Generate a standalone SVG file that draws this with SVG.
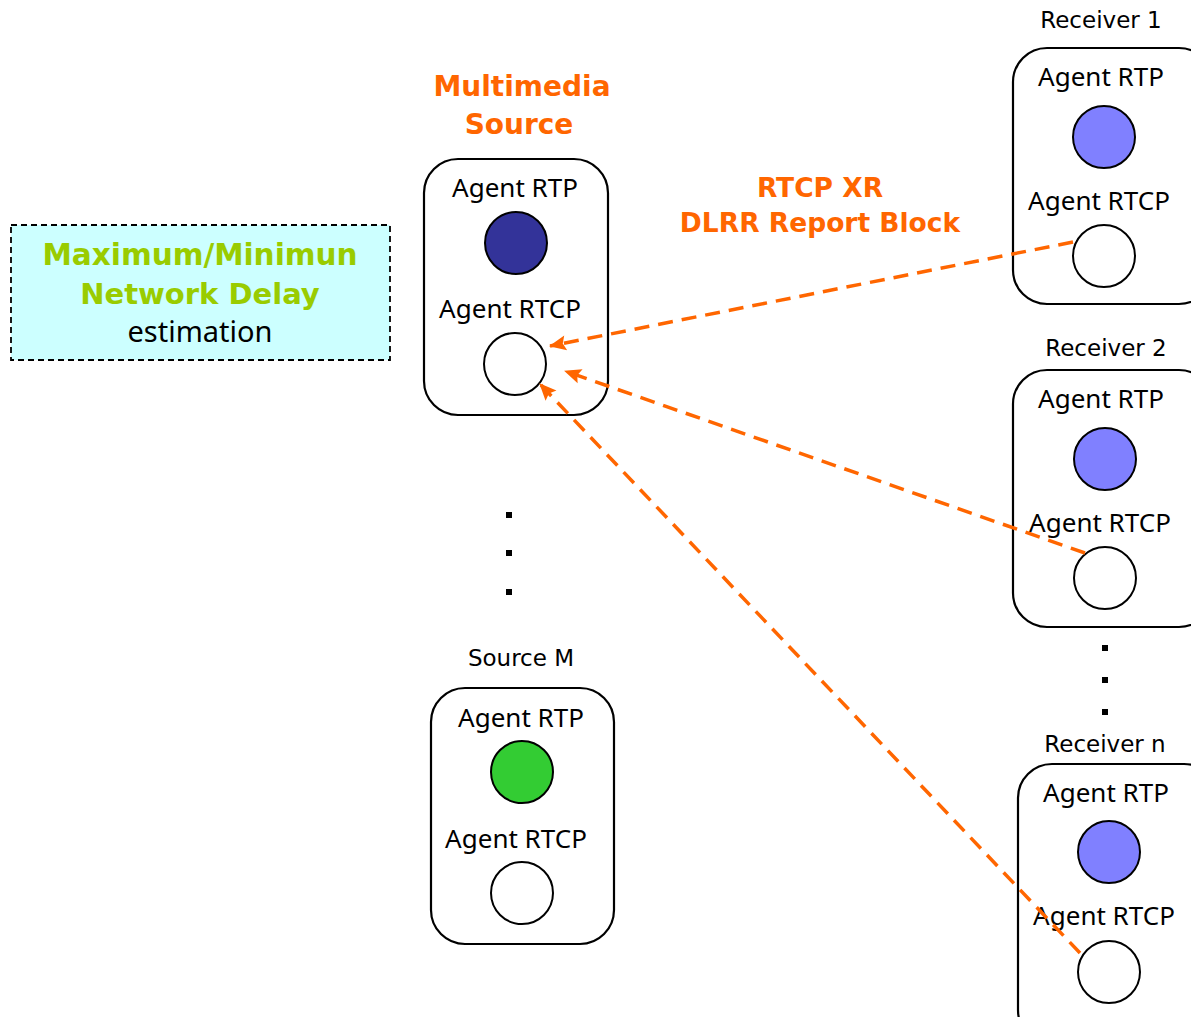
<svg xmlns="http://www.w3.org/2000/svg" width="1191" height="1017" viewBox="0 0 1191 1017">
<defs>
<style>
.box{fill:#fff;stroke:#000;stroke-width:2.2}
.t{font-family:"Noto Sans","DejaVu Sans",sans-serif;font-size:26px;fill:#000;text-anchor:middle}
.tt{font-family:"DejaVu Sans",Verdana,sans-serif;font-size:23px;fill:#000;text-anchor:middle}
.b{font-family:"DejaVu Sans",Verdana,sans-serif;font-weight:bold;text-anchor:middle}
.c{stroke:#000;stroke-width:2}
.arr{fill:none;stroke:#ff6600;stroke-width:3.5;stroke-dasharray:15,9;marker-end:url(#ah)}
</style>
<marker id="ah" viewBox="0 0 17 15" refX="16" refY="7.5" markerWidth="17" markerHeight="15" markerUnits="userSpaceOnUse" orient="auto" overflow="visible">
<path d="M0,0 L17,7.5 L0,15 L3,7.5 z" fill="#ff6600"/>
</marker>
</defs>
<rect width="1191" height="1017" fill="#fff"/>

<g id="estimation">
<rect x="11" y="225" width="379" height="135" fill="#ccffff" stroke="#000" stroke-width="1.8" stroke-dasharray="6,4"/>
<text class="b" x="200" y="265" style="font-size:29.5px" fill="#99cc00">Maximum/Minimun</text>
<text class="b" x="200" y="304" style="font-size:29px" fill="#99cc00">Network Delay</text>
<text class="t" x="200" y="342" style="font-size:29px">estimation</text>
</g>

<g id="source">
<text class="b" x="522" y="96" style="font-size:28px" fill="#ff6600">Multimedia</text>
<text class="b" x="519" y="134" style="font-size:28px" fill="#ff6600">Source</text>
<rect class="box" x="424" y="159" width="184" height="256" rx="34"/>
<text class="t" x="515" y="197">Agent RTP</text>
<circle class="c" cx="516" cy="243" r="31" fill="#333399"/>
<text class="t" x="510" y="318">Agent RTCP</text>
<circle class="c" cx="515" cy="364" r="31" fill="#fff"/>
</g>

<g id="dots-left" fill="#000">
<rect x="506" y="512" width="6" height="6"/>
<rect x="506" y="550" width="6" height="6"/>
<rect x="506" y="589" width="6" height="6"/>
</g>

<g id="sourceM">
<text class="tt" x="521" y="666">Source M</text>
<rect class="box" x="431" y="688" width="183" height="256" rx="34"/>
<text class="t" x="521" y="727">Agent RTP</text>
<circle class="c" cx="522" cy="772" r="31" fill="#33cc33"/>
<text class="t" x="516" y="848">Agent RTCP</text>
<circle class="c" cx="522" cy="893" r="31" fill="#fff"/>
</g>

<g id="receiver1">
<text class="tt" x="1101" y="28">Receiver 1</text>
<rect class="box" x="1013" y="48" width="200" height="256" rx="34"/>
<text class="t" x="1101" y="86">Agent RTP</text>
<circle class="c" cx="1104" cy="137" r="31" fill="#8080ff"/>
<text class="t" x="1099" y="210">Agent RTCP</text>
<circle class="c" cx="1104" cy="256" r="31" fill="#fff"/>
</g>

<g id="receiver2">
<text class="tt" x="1106" y="356">Receiver 2</text>
<rect class="box" x="1013" y="370" width="200" height="257" rx="34"/>
<text class="t" x="1101" y="408">Agent RTP</text>
<circle class="c" cx="1105" cy="459" r="31" fill="#8080ff"/>
<text class="t" x="1100" y="532">Agent RTCP</text>
<circle class="c" cx="1105" cy="578" r="31" fill="#fff"/>
</g>

<g id="dots-right" fill="#000">
<rect x="1102" y="645" width="6" height="6"/>
<rect x="1102" y="677" width="6" height="6"/>
<rect x="1102" y="709" width="6" height="6"/>
</g>

<g id="receivern">
<text class="tt" x="1105" y="752">Receiver n</text>
<rect class="box" x="1018" y="764" width="200" height="280" rx="34"/>
<text class="t" x="1106" y="802">Agent RTP</text>
<circle class="c" cx="1109" cy="852" r="31" fill="#8080ff"/>
<text class="t" x="1104" y="925">Agent RTCP</text>
<circle class="c" cx="1109" cy="972" r="31" fill="#fff"/>
</g>

<g id="connectors">
<text class="b" x="820" y="197" style="font-size:26.5px" fill="#ff6600">RTCP XR</text>
<text class="b" x="820" y="232" style="font-size:26.5px" fill="#ff6600">DLRR Report Block</text>
<line class="arr" x1="1073" y1="242" x2="550" y2="346"/>
<line class="arr" x1="1085" y1="553" x2="565" y2="371"/>
<line class="arr" x1="1080" y1="953" x2="540" y2="384"/>
</g>
</svg>
